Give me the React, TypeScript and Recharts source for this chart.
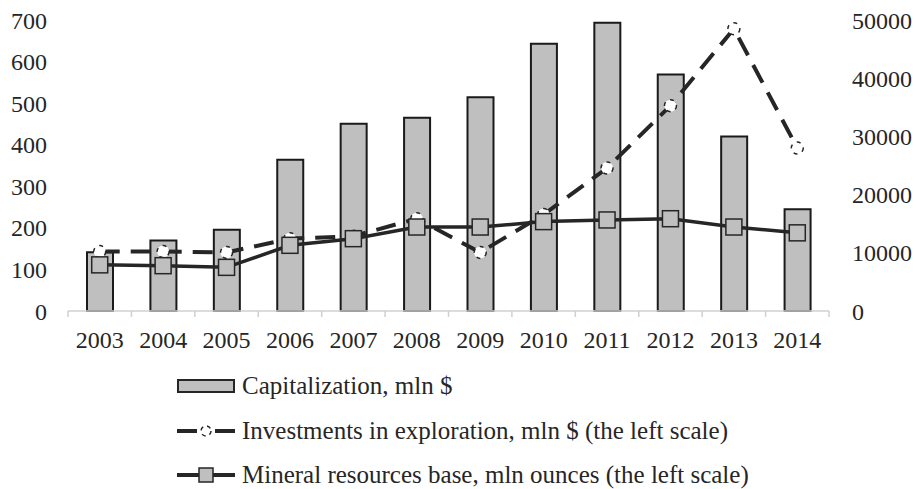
import { Bar, ComposedChart, Legend, Line, XAxis, YAxis } from "recharts";

const years = ["2003", "2004", "2005", "2006", "2007", "2008", "2009", "2010", "2011", "2012", "2013", "2014"];
const capitalization = [10100, 12100, 13950, 25980, 32160, 33190, 36730, 45900, 49520, 40630, 29980, 17490];
const investments = [143, 143, 141, 174, 180, 222, 141, 232, 344, 494, 679, 392];
const mineralBase = [111, 109, 105, 158, 174, 202, 202, 215, 219, 222, 202, 188];
const leftTicks = [0, 100, 200, 300, 400, 500, 600, 700];
const rightTicks = [0, 10000, 20000, 30000, 40000, 50000];

const names = {
  cap: "Capitalization, mln $",
  inv: "Investments in exploration, mln $ (the left scale)",
  min: "Mineral resources base, mln ounces (the left scale)"
};

const data = years.map((year, i) => ({
  year,
  cap: capitalization[i],
  inv: investments[i],
  min: mineralBase[i]
}));

const W = 916;
const H = 489;
const LEFT_W = 68;
const RIGHT_W = 87;
const BAND = (W - LEFT_W - RIGHT_W) / years.length;
const FONT = "'Liberation Serif', 'Times New Roman', serif";
const INK = "#262626";

function YearTick({ x, y, payload, index }: any) {
  return (
    <g>
      <line x1={x - BAND / 2} x2={x - BAND / 2} y1={y - 20} y2={y - 14} stroke="#d0d0d0" strokeWidth={1.5} />
      {index === years.length - 1 && (
        <line x1={x + BAND / 2} x2={x + BAND / 2} y1={y - 20} y2={y - 14} stroke="#d0d0d0" strokeWidth={1.5} />
      )}
      <text x={x} y={y} dy="0.71em" textAnchor="middle" fill={INK} fontSize={24} fontFamily={FONT}>
        {payload.value}
      </text>
    </g>
  );
}

function OpenDot({ cx, cy, index }: any) {
  return (
    <circle key={`d${index}`} cx={cx} cy={cy} r={6} fill="#fff" stroke={INK} strokeWidth={1.5} strokeDasharray="4 5" />
  );
}

function SquareDot({ cx, cy, index }: any) {
  return <rect key={`s${index}`} x={cx - 8} y={cy - 8} width={16} height={16} fill="#bfbfbf" stroke={INK} strokeWidth={1.5} />;
}

function LegendIcon({ kind }: { kind: string }) {
  if (kind === "cap") {
    return (
      <svg width={58} height={16}>
        <rect x={1} y={2} width={56} height={12} fill="#bfbfbf" stroke={INK} strokeWidth={2} />
      </svg>
    );
  }
  return (
    <svg width={58} height={16}>
      <line x1={0} x2={58} y1={8} y2={8} stroke={INK} strokeWidth={4} strokeDasharray={kind === "inv" ? "20 18" : undefined} />
      {kind === "inv" ? (
        <circle cx={29} cy={8} r={5} fill="#fff" stroke={INK} strokeWidth={1.5} strokeDasharray="4 4" />
      ) : (
        <rect x={22} y={1} width={14} height={14} fill="#bfbfbf" stroke={INK} strokeWidth={1.5} />
      )}
    </svg>
  );
}

function LegendBox({ payload }: any) {
  return (
    <div style={{ height: 125, paddingLeft: 177, boxSizing: "border-box" }}>
      {(payload || []).map((item: any) => (
        <div key={item.dataKey} style={{ height: 44.5, display: "flex", alignItems: "center", fontFamily: FONT, fontSize: 25, color: INK }}>
          <LegendIcon kind={item.dataKey} />
          <span style={{ marginLeft: 7 }}>{item.value}</span>
        </div>
      ))}
    </div>
  );
}

export default function App() {
  return (
    <div style={{ position: "absolute", left: 0, top: 0, width: W, height: H, background: "#fff" }}>
      <ComposedChart width={W} height={H} data={data} margin={{ top: 20, right: 0, bottom: 0, left: 0 }}>
        <XAxis
          dataKey="year"
          xAxisId="x"
          height={53}
          interval={0}
          tickSize={0}
          tickMargin={20}
          tickLine={false}
          axisLine={{ stroke: "#d0d0d0", strokeWidth: 1.5 }}
          tick={<YearTick />}
        />
        <YAxis
          yAxisId="left"
          orientation="left"
          width={LEFT_W}
          domain={[0, 700]}
          ticks={leftTicks}
          interval={0}
          axisLine={false}
          tickLine={false}
          tickSize={0}
          tickMargin={21}
          tick={{ fill: INK, fontSize: 24, fontFamily: FONT }}
        />
        <YAxis
          yAxisId="right"
          orientation="right"
          width={RIGHT_W}
          domain={[0, 50000]}
          ticks={rightTicks}
          interval={0}
          axisLine={false}
          tickLine={false}
          tickSize={0}
          tickMargin={23}
          tick={{ fill: INK, fontSize: 24, fontFamily: FONT, textAnchor: "start" }}
        />
        <Legend verticalAlign="bottom" content={<LegendBox />} wrapperStyle={{ left: 0, bottom: 0, width: W, height: 125 }} />
        <Bar
          dataKey="cap"
          name={names.cap}
          xAxisId="x"
          yAxisId="right"
          barSize={26}
          fill="#bfbfbf"
          stroke="#1a1a1a"
          strokeWidth={2}
          isAnimationActive={false}
        />
        <Line
          dataKey="inv"
          name={names.inv}
          xAxisId="x"
          yAxisId="left"
          type="linear"
          stroke={INK}
          strokeWidth={4}
          strokeDasharray="20 11"
          dot={OpenDot}
          activeDot={false}
          isAnimationActive={false}
        />
        <Line
          dataKey="min"
          name={names.min}
          xAxisId="x"
          yAxisId="left"
          type="linear"
          stroke={INK}
          strokeWidth={3.5}
          dot={SquareDot}
          activeDot={false}
          isAnimationActive={false}
        />
      </ComposedChart>
    </div>
  );
}
